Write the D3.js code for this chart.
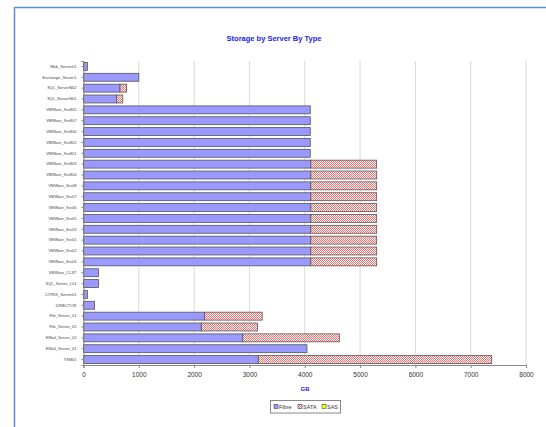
<!DOCTYPE html>
<html><head><meta charset="utf-8">
<script src="https://cdn.jsdelivr.net/npm/d3@7"></script>
<style>body{margin:0;background:#fff;overflow:hidden}svg{display:block}</style>
</head><body>
<svg id="c" width="546" height="427"></svg>
<script>
const categories = ["Web_Server01","Exchange_Server1","SQL_ServerN02","SQL_ServerN01","VMWare_Srv805","VMWare_Srv807","VMWare_Srv806","VMWare_Srv802","VMWare_Srv801","VMWare_Srv803","VMWare_Srv804","VMWare_Srv08","VMWare_Srv07","VMWare_Srv06","VMWare_Srv05","VMWare_Srv03","VMWare_Srv01","VMWare_Srv02","VMWare_Srv04","VMWare_CLST","SQL_Server_L01","CITRIX_Server01","DIRECTOR","File_Server_01","File_Server_02","EMail_Server_02","EMail_Server_01","TSM01"];
const fibre = [70,1000,660,600,4100,4100,4100,4100,4100,4110,4110,4110,4110,4110,4110,4110,4110,4110,4110,270,270,70,200,2190,2130,2880,4040,3160];
const sata  = [0,0,120,110,0,0,0,0,0,1190,1190,1190,1190,1190,1190,1190,1190,1190,1190,0,0,0,0,1040,1015,1745,0,4220];
const sas   = [0,0,0,0,0,0,0,0,0,0,0,0,0,0,0,0,0,0,0,0,0,0,0,0,0,0,0,0];
const seriesNames = ["Fibre","SATA","SAS"];
const xTicks = [0,1000,2000,3000,4000,5000,6000,7000,8000];
const title = "Storage by Server By Type";
const xTitle = "GB";

const svg = d3.select("#c");
const defs = svg.append("defs");
const pat = defs.append("pattern").attr("id","sata").attr("patternUnits","userSpaceOnUse").attr("width",2).attr("height",2);
pat.append("rect").attr("width",2).attr("height",2).attr("fill","#ffffff");
pat.append("rect").attr("width",1).attr("height",1).attr("fill","#ff6a6a");
pat.append("rect").attr("x",1).attr("y",1).attr("width",1).attr("height",1).attr("fill","#ff6a6a");

svg.append("rect").attr("x",14.5).attr("y",7.5).attr("width",900).attr("height",800)
  .attr("fill","none").attr("stroke","#5b8fd0").attr("stroke-width",1.5);

const m = {l:83.5, r:526, t:61, b:365};
const x = d3.scaleLinear().domain([0,8000]).range([m.l,m.r]);
const y = d3.scaleBand().domain(categories).range([m.t,m.b]).paddingInner(0.27).paddingOuter(0.135);

svg.append("g").selectAll("line").data(xTicks.slice(1)).join("line")
  .attr("x1",d=>x(d)).attr("x2",d=>x(d)).attr("y1",m.t).attr("y2",m.b)
  .attr("stroke","#d9d9d9").attr("stroke-width",1);

const fills = ["#9999ff","url(#sata)","#ffff00"];
const data = categories.map((c,i)=>({c, v:[fibre[i],sata[i],sas[i]]}));
const stack = d3.stack().keys([0,1,2]).value((d,k)=>d.v[k]);
const layers = stack(data);
layers.forEach((L,k)=>{
  svg.append("g").selectAll("rect").data(L.filter(d=>d[1]-d[0]>0)).join("rect")
    .attr("x",d=>x(d[0])).attr("width",d=>x(d[1])-x(d[0]))
    .attr("y",d=>y(d.data.c)).attr("height",y.bandwidth())
    .attr("fill",fills[k]).attr("stroke","#555").attr("stroke-width",0.8);
});

const xa = svg.append("g").attr("transform",`translate(0,${m.b})`)
  .call(d3.axisBottom(x).tickValues(xTicks).tickSize(3).tickFormat(d3.format("d")));
xa.select(".domain").attr("stroke","#888");
xa.selectAll(".tick line").attr("stroke","#888");
xa.selectAll("text").attr("font-family","Liberation Sans, Arial").attr("font-size",6.5).attr("fill","#333").attr("dy","0.9em");

const ya = svg.append("g").attr("transform",`translate(${m.l},0)`)
  .call(d3.axisLeft(y).tickSize(2).tickPadding(5));
ya.select(".domain").attr("stroke","#888");
ya.selectAll(".tick line").attr("stroke","#888");
ya.selectAll("text").attr("font-family","Liberation Sans, Arial").attr("font-size",4).attr("fill","#444");

svg.append("text").attr("x",274).attr("y",41).attr("text-anchor","middle")
  .attr("font-family","Liberation Sans, Arial").attr("font-weight","bold").attr("font-size",7.5).attr("fill","#2222ee").text(title);
svg.append("text").attr("x",305).attr("y",391).attr("text-anchor","middle")
  .attr("font-family","Liberation Sans, Arial").attr("font-weight","bold").attr("font-size",6).attr("fill","#2222ee").text(xTitle);

const lg = svg.append("g");
lg.append("rect").attr("x",270.5).attr("y",400.5).attr("width",70).attr("height",12.5).attr("fill","#fff").attr("stroke","#888");
const lx = [274, 298, 322];
seriesNames.forEach((n,k)=>{
  lg.append("rect").attr("x",lx[k]).attr("y",404.5).attr("width",4).attr("height",4).attr("fill",fills[k]).attr("stroke","#444").attr("stroke-width",0.6);
  lg.append("text").attr("x",lx[k]+5).attr("y",408.8).attr("font-family","Liberation Sans, Arial").attr("font-size",5.5).attr("fill","#333").text(n);
});
</script>
</body></html>
